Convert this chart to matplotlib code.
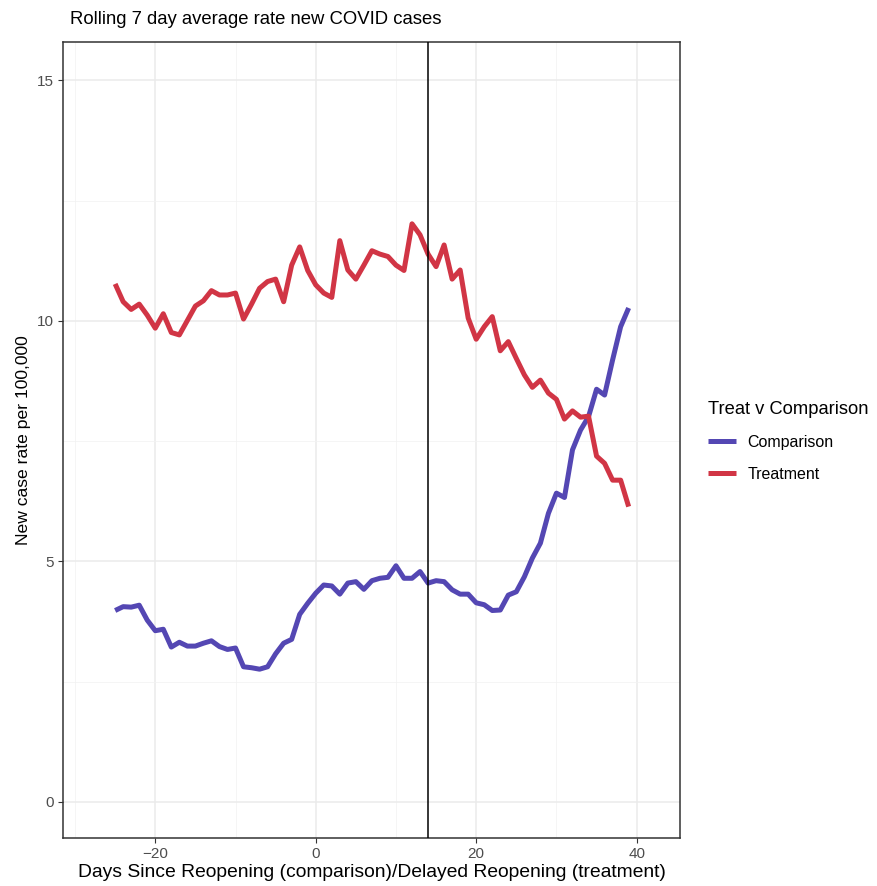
import matplotlib
matplotlib.use("Agg")
import matplotlib.pyplot as plt
import numpy as np
from matplotlib.ticker import MultipleLocator

plt.rcParams['font.family'] = ['Liberation Sans', 'DejaVu Sans']

days = np.arange(-25, 40)

comparison = [3.98, 4.06, 4.05, 4.09, 3.78, 3.56, 3.59, 3.22, 3.32, 3.24,
              3.24, 3.30, 3.35, 3.23, 3.17, 3.20, 2.81, 2.79, 2.76, 2.81,
              3.08, 3.30, 3.38, 3.90, 4.13, 4.34, 4.51, 4.49, 4.32, 4.55,
              4.58, 4.42, 4.60, 4.65, 4.67, 4.91, 4.65, 4.65, 4.79, 4.55,
              4.60, 4.58, 4.41, 4.32, 4.32, 4.14, 4.10, 3.98, 3.99, 4.30,
              4.37, 4.68, 5.07, 5.38, 6.00, 6.42, 6.33, 7.32, 7.73, 8.01,
              8.58, 8.46, 9.19, 9.88, 10.27]

treatment = [10.77, 10.40, 10.24, 10.35, 10.12, 9.85, 10.15, 9.76, 9.71, 10.01,
             10.31, 10.42, 10.63, 10.54, 10.54, 10.58, 10.04, 10.35, 10.68, 10.82,
             10.87, 10.40, 11.16, 11.54, 11.05, 10.75, 10.58, 10.49, 11.67, 11.06,
             10.87, 11.16, 11.46, 11.39, 11.34, 11.16, 11.05, 12.02, 11.79, 11.39,
             11.13, 11.58, 10.87, 11.06, 10.06, 9.62, 9.88, 10.09, 9.38, 9.57,
             9.22, 8.88, 8.62, 8.77, 8.50, 8.37, 7.96, 8.13, 8.00, 8.02,
             7.19, 7.04, 6.69, 6.69, 6.14]

reopen_day = 14

W, H = 878, 886
fig = plt.figure(figsize=(W / 100, H / 100), dpi=100)
ax = fig.add_axes([63 / W, 1 - 838 / H, (680 - 63) / W, (838 - 42) / H])

ax.plot(days, comparison, color='#5447B3', lw=3.6, label='Comparison',
        solid_capstyle='butt', solid_joinstyle='round', zorder=3)
ax.plot(days, treatment, color='#D13545', lw=3.6, label='Treatment',
        solid_capstyle='butt', solid_joinstyle='round', zorder=3)
ax.axvline(reopen_day, color='black', lw=1.1, zorder=4)

ax.set_xlim(-31.5, 45.4)
ax.set_ylim(-0.75, 15.8)
ax.xaxis.set_major_locator(MultipleLocator(20))
ax.xaxis.set_minor_locator(MultipleLocator(10))
ax.yaxis.set_major_locator(MultipleLocator(5))
ax.yaxis.set_minor_locator(MultipleLocator(2.5))
ax.grid(which='major', color='#EBEBEB', lw=1.1, zorder=0)
ax.grid(which='minor', color='#F2F2F2', lw=0.55, zorder=0)
ax.set_axisbelow(True)

ax.set_xticks([-20, 0, 20, 40])
ax.set_xticklabels(['\u221220', '0', '20', '40'])
ax.tick_params(which='major', length=3.5, width=0.8, color='#333333',
               labelsize=11, labelcolor='#4D4D4D', pad=3)
ax.tick_params(which='minor', length=0)
for sp in ax.spines.values():
    sp.set_color('#333333')
    sp.set_linewidth(1.1)

ax.set_xlabel('Days Since Reopening (comparison)/Delayed Reopening (treatment)',
              fontsize=13.9, labelpad=2)
ax.set_ylabel('New case rate per 100,000', fontsize=12.6, labelpad=4)

fig.text(70 / W, 1 - 20 / H, 'Rolling 7 day average rate new COVID cases',
         fontsize=13.3, ha='left', va='center')

leg = ax.legend(loc='upper left', bbox_to_anchor=(702 / W, 1 - 395 / H),
                bbox_transform=fig.transFigure, frameon=False,
                title='Treat v Comparison', title_fontsize=13.2, fontsize=11.5,
                handlelength=1.7, handletextpad=0.75, labelspacing=1.05,
                alignment='left', borderaxespad=0)
leg._legend_box.sep = 12

fig.savefig('out.png', dpi=100)
